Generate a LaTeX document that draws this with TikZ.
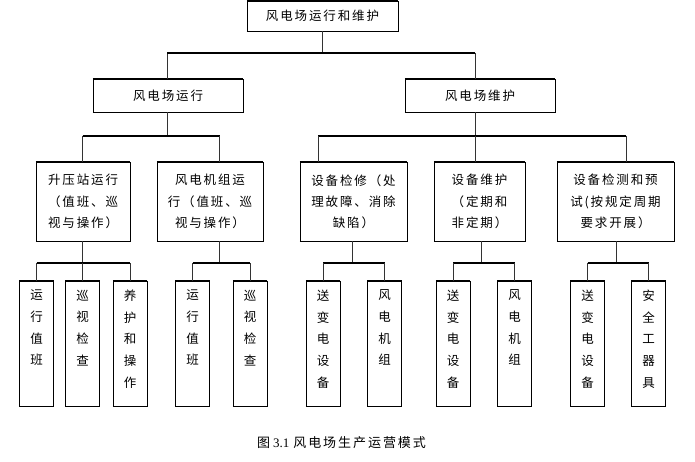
\documentclass[tikz,border=0pt]{standalone}
\usepackage{fontspec}
\setmainfont{Liberation Serif}
\newfontfamily\cjk{Noto Sans CJK SC}[LetterSpace=15]
\begin{document}
\begin{tikzpicture}[x=1pt,y=-1pt,
  box/.style={draw, line width=0.5pt, inner sep=0pt, align=center,
    font=\cjk\fontsize{12.5}{21.2}\selectfont},
  leafbox/.style={draw, line width=0.5pt, inner sep=0pt, minimum width=34pt, minimum height=125pt},
  leaftext/.style={anchor=north, align=center, inner sep=0pt,
    font=\cjk\fontsize{12.5}{21.7}\selectfont},
  edge/.style={line width=1.4pt},
  bus/.style={line width=1.4pt},
  conn/.style={line width=0.6pt, draw=black!80}]
\useasboundingbox (0,0) rectangle (695,462);

% level 0 and 1
\node[box, minimum width=151pt, minimum height=30pt] (top) at (322.5,16) {风电场运行和维护};
\node[box, minimum width=150pt, minimum height=33pt] (L) at (168,95.5) {风电场运行};
\node[box, minimum width=150pt, minimum height=33pt] (R) at (480,95.5) {风电场维护};

% level 2
\node[box, minimum width=94pt, minimum height=79pt] (b1) at (83,201.5) {升压站运行\\（值班、巡\\视与操作）};
\node[box, minimum width=106pt, minimum height=79pt] (b2) at (210,201.5) {风电机组运\\行（值班、巡\\视与操作）};
\node[box, minimum width=107pt, minimum height=79pt] (b3) at (353.5,201.5) {设备检修（处\\理故障、消除\\缺陷）};
\node[box, minimum width=91pt, minimum height=79pt] (b4) at (479.5,201.5) {设备维护\\（定期和\\非定期）};
\node[box, minimum width=117pt, minimum height=79pt] (b5) at (615.5,201.5) {设备检测和预\\试(按规定周期\\要求开展）};

% leaves
\node[leafbox] (l1) at (36.5,343.5) {};
\node[leafbox] (l2) at (82.5,343.5) {};
\node[leafbox] (l3) at (130,343.5) {};
\node[leafbox] (l4) at (192.5,343.5) {};
\node[leafbox] (l5) at (250,343.5) {};
\node[leafbox] (l6) at (323,343.5) {};
\node[leafbox] (l7) at (384.5,343.5) {};
\node[leafbox] (l8) at (453,343.5) {};
\node[leafbox] (l9) at (514.5,343.5) {};
\node[leafbox] (l10) at (587.5,343.5) {};
\node[leafbox] (l11) at (648.5,343.5) {};
\node[leaftext] (t1) at ([yshift=-9pt]l1.north) {运\\行\\值\\班};
\node[leaftext] (t2) at ([yshift=-9pt]l2.north) {巡\\视\\检\\查};
\node[leaftext] (t3) at ([yshift=-9pt]l3.north) {养\\护\\和\\操\\作};
\node[leaftext] (t4) at ([yshift=-9pt]l4.north) {运\\行\\值\\班};
\node[leaftext] (t5) at ([yshift=-9pt]l5.north) {巡\\视\\检\\查};
\node[leaftext] (t6) at ([yshift=-9pt]l6.north) {送\\变\\电\\设\\备};
\node[leaftext] (t7) at ([yshift=-9pt]l7.north) {风\\电\\机\\组};
\node[leaftext] (t8) at ([yshift=-9pt]l8.north) {送\\变\\电\\设\\备};
\node[leaftext] (t9) at ([yshift=-9pt]l9.north) {风\\电\\机\\组};
\node[leaftext] (t10) at ([yshift=-9pt]l10.north) {送\\变\\电\\设\\备};
\node[leaftext] (t11) at ([yshift=-9pt]l11.north) {安\\全\\工\\器\\具};

% thick top/bottom edges
\foreach \n in {top,L,R,b1,b2,b3,b4,b5,l1,l2,l3,l4,l5,l6,l7,l8,l9,l10,l11}
  \draw[edge] (\n.north west) -- (\n.north east) (\n.south west) -- (\n.south east);

% junctions
\coordinate (jL) at (167,53);
\coordinate (jR) at (475,53);
\coordinate (k1) at (82.5,136);
\coordinate (k2) at (219.5,136);
\coordinate (k3) at (318,136);
\coordinate (k4) at (475,136);
\coordinate (k5) at (626,136);
\coordinate (m1) at (82.5,263);
\coordinate (m2) at (219.5,263);
\coordinate (m3) at (352,263);
\coordinate (m4) at (481,263);
\coordinate (m5) at (616,263);

% level 0 -> 1
\draw[conn] (top.south) -- (top.south |- jL);
\draw[conn] (jL) -- (jL |- L.north);
\draw[conn] (jR) -- (jR |- R.north);
\draw[bus] (jL) -- (jR);

% level 1 -> 2
\draw[conn] (jL |- L.south) -- (jL |- k1);
\draw[conn] (jR |- R.south) -- (k4);
\draw[bus] (k1) -- (k2);
\draw[bus] (k3) -- (k5);
\foreach \k/\b in {k1/b1,k2/b2,k3/b3,k4/b4,k5/b5}
  \draw[conn] (\k) -- (\k |- \b.north);

% level 2 -> leaves
\foreach \m/\b in {m1/b1,m2/b2,m3/b3,m4/b4,m5/b5}
  \draw[conn] (\m |- \b.south) -- (\m);
\draw[bus] (l1.north |- m1) -- (l3.north |- m1);
\draw[bus] (l4.north |- m2) -- (l5.north |- m2);
\draw[bus] (l6.north |- m3) -- (l7.north |- m3);
\draw[bus] (l8.north |- m4) -- (l9.north |- m4);
\draw[bus] (l10.north |- m5) -- (l11.north |- m5);
\foreach \l/\m in {l1/m1,l2/m1,l3/m1,l4/m2,l5/m2,l6/m3,l7/m3,l8/m4,l9/m4,l10/m5,l11/m5}
  \draw[conn] (\l.north |- \m) -- (\l.north);

% caption
\node[inner sep=0pt, font=\fontsize{13}{15}\selectfont] (cap) at (341.5,443)
  {{\cjk 图}\hspace{3pt}3.1\hspace{4pt}{\cjk 风电场生产运营模式}};
\end{tikzpicture}
\end{document}
